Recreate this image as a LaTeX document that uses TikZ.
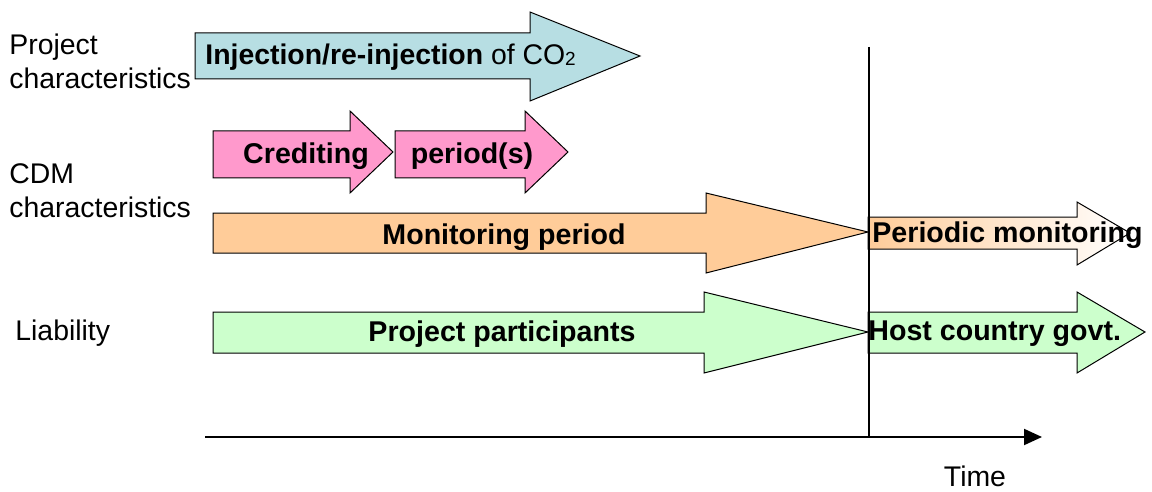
\documentclass[tikz,border=0pt]{standalone}
\usepackage{fontspec}
\setmainfont{Liberation Sans}
\usetikzlibrary{arrows.meta}
\definecolor{cblue}{HTML}{B7DEE3}
\definecolor{cpink}{HTML}{FF99CC}
\definecolor{corange}{HTML}{FFCC99}
\definecolor{cgreen}{HTML}{CCFFCC}
\tikzset{
  fat/.style={draw=black, line width=0.5pt, line join=miter},
  lbl/.style={font=\fontsize{14.2}{17}\selectfont, align=left, inner sep=0pt},
  blbl/.style={font=\fontsize{14.3}{17}\selectfont\bfseries, inner sep=0pt},
}
\begin{document}
\begin{tikzpicture}[x=0.5pt,y=-0.5pt]
\useasboundingbox (0,0) rectangle (1152,492);
% arrows
\draw[fat, fill=cblue] (195,33) -- (530,33) -- (530,12) -- (640,56) -- (530,101) -- (530,79) -- (195,79) -- cycle;
\draw[fat, fill=cpink] (213,131) -- (350,131) -- (350,111) -- (393,152) -- (350,193) -- (350,178) -- (213,178) -- cycle;
\draw[fat, fill=cpink] (395,131) -- (525,131) -- (525,111) -- (568,152) -- (525,193) -- (525,178) -- (395,178) -- cycle;
\draw[fat, fill=corange] (213,213) -- (706,213) -- (706,193) -- (868,232) -- (706,273) -- (706,253) -- (213,253) -- cycle;
\draw[fat, left color=corange, right color=white] (868,217) -- (1077,217) -- (1077,202) -- (1130,233) -- (1077,265) -- (1077,249) -- (868,249) -- cycle;
\draw[fat, fill=cgreen] (213,312) -- (704,312) -- (704,292) -- (868,332) -- (704,373) -- (704,353) -- (213,353) -- cycle;
\draw[fat, fill=cgreen] (868,312) -- (1077,312) -- (1077,292) -- (1145,332) -- (1077,373) -- (1077,353) -- (868,353) -- cycle;
% vertical line and time axis
\coordinate (vtop) at (869,47);
\coordinate (vbot) at (869,437);
\coordinate (ax0) at (205,437);
\coordinate (ax1) at (1042,437);
\draw[line width=0.6pt] (vtop) -- (vbot);
\draw[line width=1pt, -{Triangle[length=9pt,width=8pt]}] (ax0) -- (ax1);
\node[lbl, anchor=north] (time) at (975,466) {Time};
% left labels
\node[lbl, anchor=west] (pc) at (9,61) {Project\\characteristics};
\node[lbl, anchor=west] (cdm) at (9,191) {CDM\\characteristics};
\node[lbl, anchor=west] (liab) at (15,333) {Liability};
% arrow texts
\node[lbl, anchor=west] (inj) at (205,57) {\textbf{Injection/re-injection} of CO\raisebox{-0.6pt}{\fontsize{9.5}{10}\selectfont 2}};
\node[blbl] (cred) at (306,156) {Crediting};
\node[blbl] (per) at (472,156) {period(s)};
\node[blbl] (mon) at (504,237) {Monitoring period};
\node[blbl, anchor=west] (pmon) at (872,235) {Periodic monitoring};
\node[blbl] (pp) at (502,334) {Project participants};
\node[blbl, anchor=west] (host) at (868,334) {Host country govt.};
\end{tikzpicture}
\end{document}
